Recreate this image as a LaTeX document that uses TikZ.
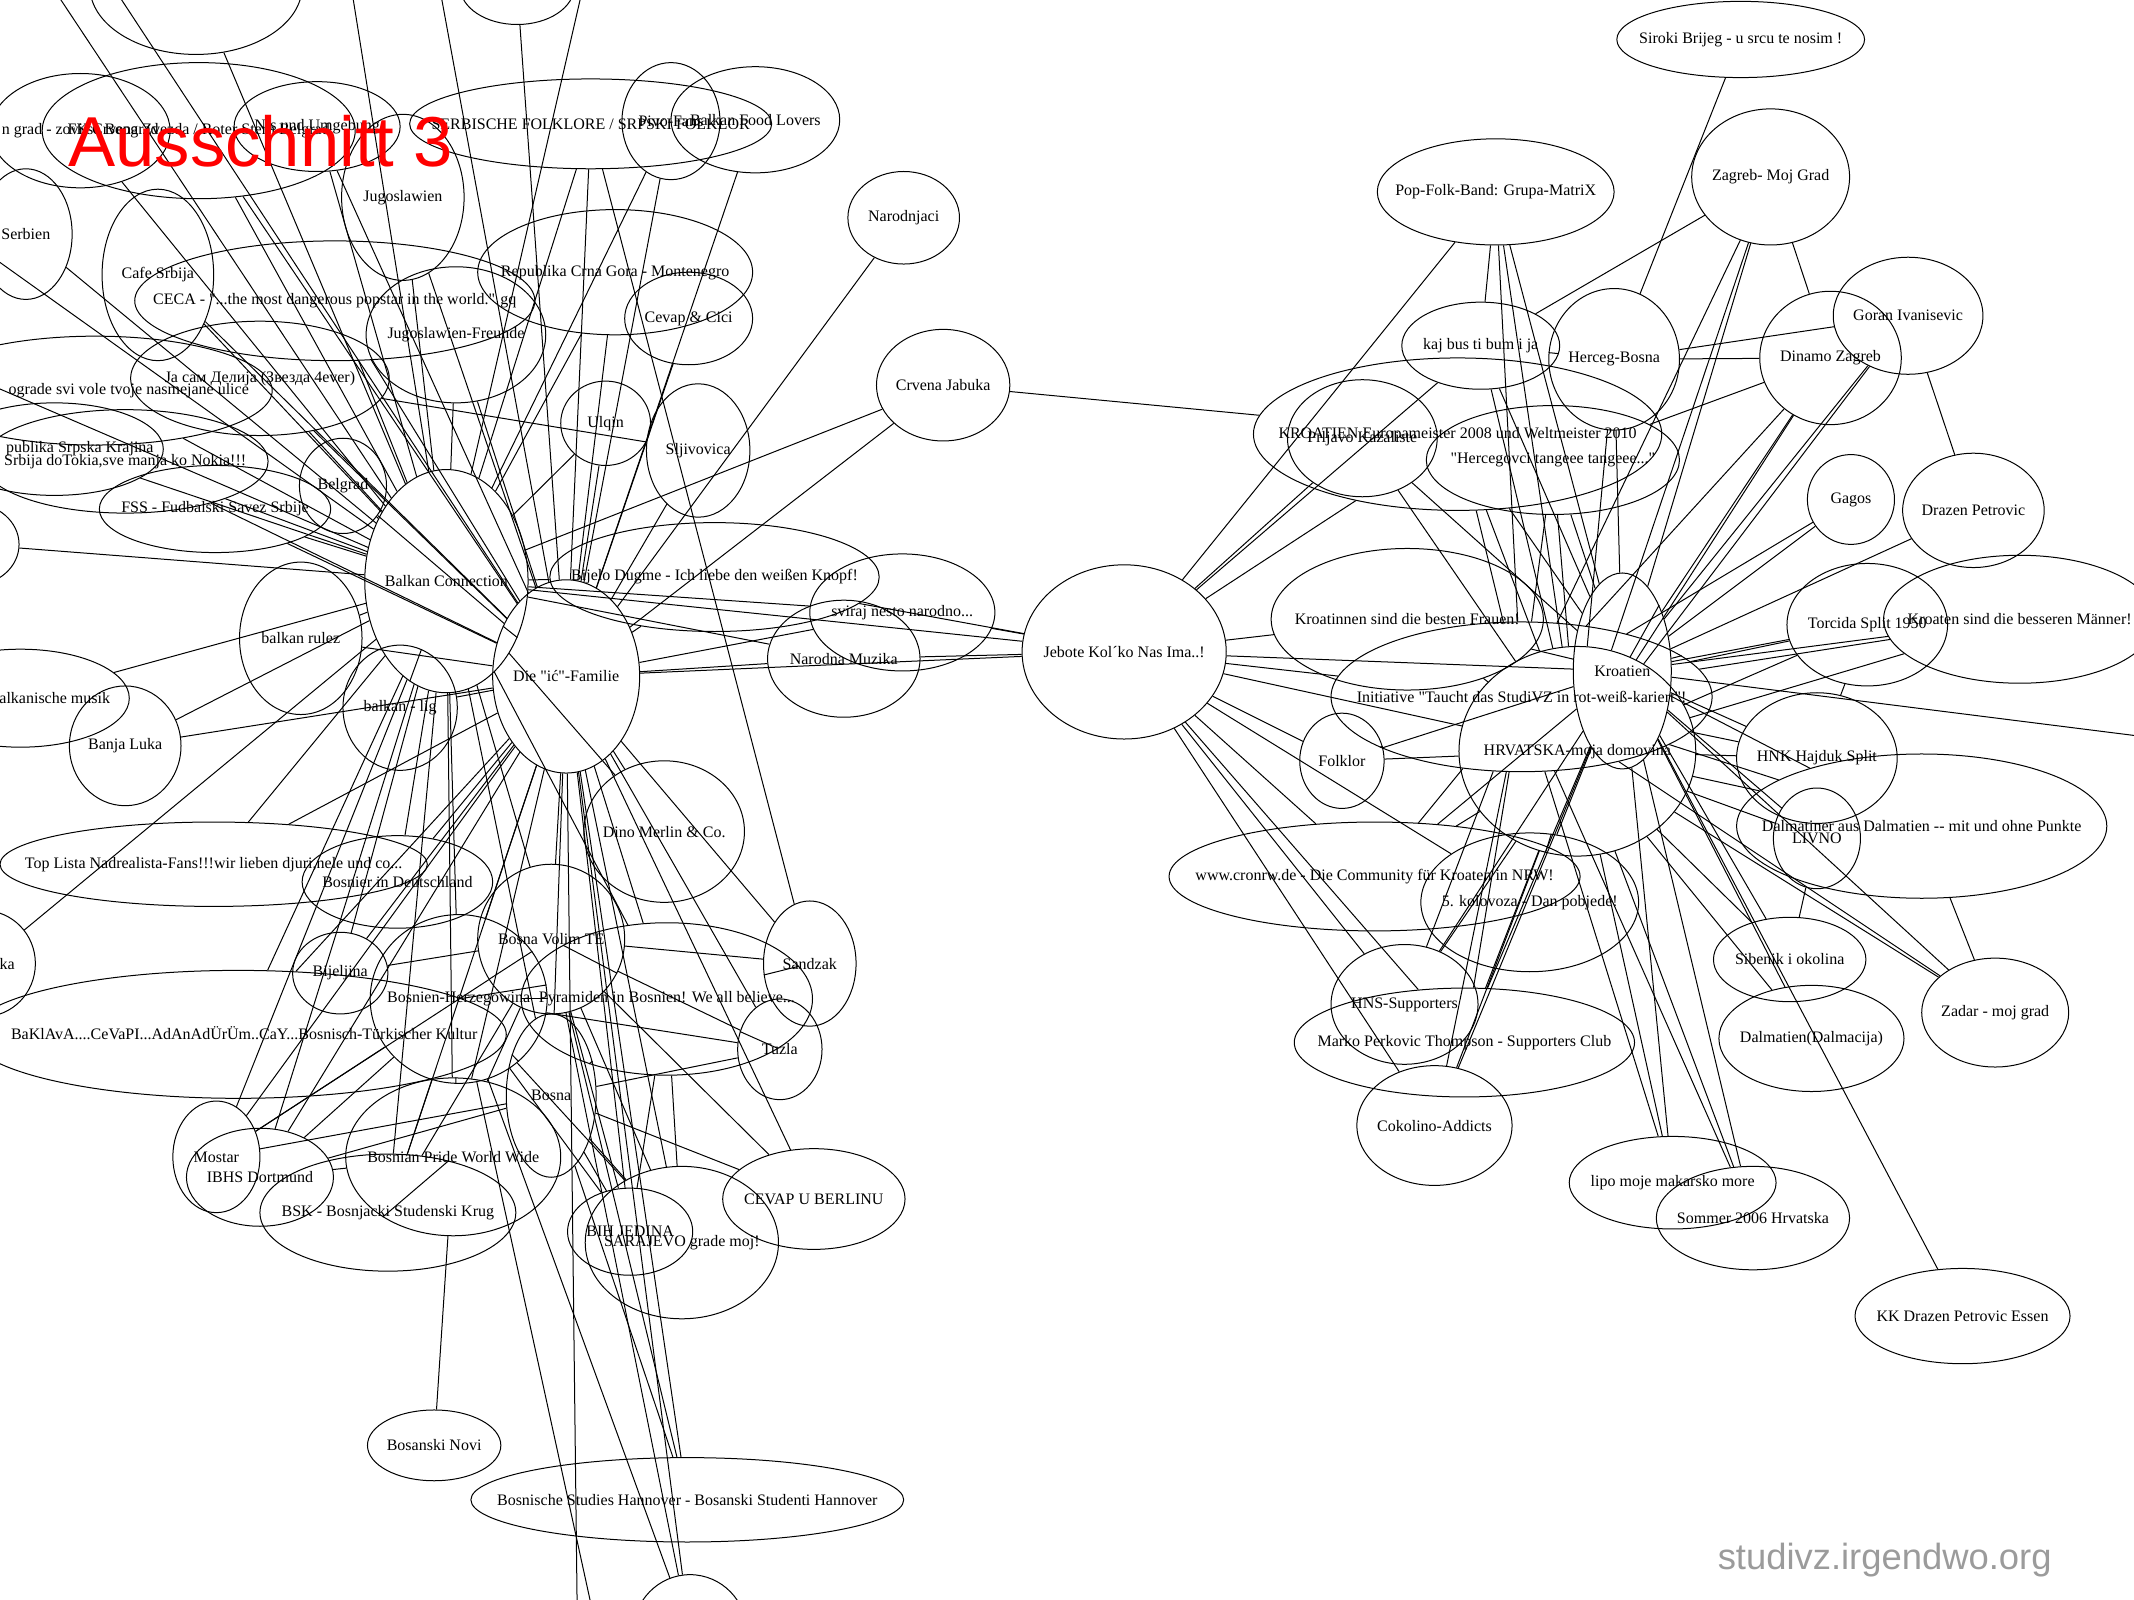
\documentclass[tikz,border=0pt]{standalone}
\usepackage{fontspec}
\setmainfont{Liberation Serif}
\newfontfamily\sansf{Liberation Sans}
\usetikzlibrary{shapes.geometric}
\definecolor{wmgray}{RGB}{155,155,155}
\tikzset{
 gn/.style={draw, ellipse, inner sep=0pt, line width=1pt},
 lt/.style={font=\fontsize{16}{18}\selectfont, inner sep=0pt, text=black},
 ed/.style={line width=1pt},
}
\newcommand\qq{\textquotedbl}
\newcommand\gnd[6]{\node[gn, minimum width={#4*2.722pt}, minimum height={#5*2.722pt}, label={[lt]center:{#6}}] (#1) at (#2,#3) {};}
\begin{document}
\begin{tikzpicture}[x=1.361pt, y=-1.361pt]
\useasboundingbox (0,0) rectangle (1568,1175.6);
\clip (0,0) rectangle (1568,1175.6);
% ---------- left cluster ----------
\gnd{top1}{144}{-10}{78}{50}{}
\gnd{top2}{380}{-10}{42}{28}{}
\gnd{ngrad}{59}{96}{66}{42}{n grad - zovi se Beograd}
\gnd{fk}{146}{96}{115}{50}{FK Crvena Zvezda / Roter Stern Belgrad}
\gnd{nis}{233}{93}{61}{33}{Nis und Umgebung}
\gnd{serb}{434}{91}{133}{33}{SERBISCHE FOLKLORE / SRPSKI FOLKLOR}
\gnd{pivo}{493}{89}{36}{43}{Pivo-Fans}
\gnd{food}{555}{88}{62}{39}{Balkan Food Lovers}
\gnd{jugo}{296}{145}{45}{61}{Jugoslawien}
\gnd{serbien}{19}{172}{34}{48}{Serbien}
\gnd{cafe}{116}{202}{41}{63}{Cafe Srbija}
\gnd{ceca}{246}{221}{147}{44}{CECA - \qq...the most dangerous popstar in the world.\qq{} gq}
\gnd{crna}{452}{200}{101}{46}{Republika Crna Gora - Montenegro}
\gnd{cevap}{506}{234}{47}{34}{Cevap \& Cici}
\gnd{jfreunde}{335}{246}{66}{50}{Jugoslawien-Freunde}
\gnd{delija}{191}{278}{95}{42}{Ja сам Делија (Звезда 4ever)}
\gnd{beograde}{70}{287}{130}{40}{}
\node[lt, anchor=east] (beogradeT) at (183,287) {ograde svi vole tvoje nasmejane ulice};
\gnd{krajina}{40}{330}{80}{34}{}
\node[lt, anchor=east] (krajinaT) at (113,330) {publika Srpska Krajina};
\gnd{srbija}{92}{339}{105}{38}{Srbija doTokia,sve manja ko Nokia!!!}
\gnd{fss}{158}{374}{85}{32}{FSS - Fudbalski Savez Srbije}
\gnd{belgrad}{252}{357}{32}{35}{Belgrad}
\gnd{ulqin}{445}{311}{33}{31}{Ulqin}
\gnd{sljiv}{513}{331}{38}{49}{Sljivovica}
\gnd{narodnjaci}{664}{160}{41}{34}{Narodnjaci}
\gnd{crvena}{693}{283}{49}{41}{Crvena Jabuka}
\gnd{bc}{328}{427}{60}{82}{Balkan Connection}
\gnd{dif}{416}{497}{54}{71}{Die \qq ić\qq-Familie}
\gnd{leftc}{-20}{400}{34}{30}{}
\gnd{brulez}{221}{469}{45}{56}{balkan rulez}
\gnd{bmusik}{15}{513}{80}{36}{}
\node[lt, anchor=east] (bmusikT) at (81,513) {alkanische musik};
\gnd{banja}{92}{548}{41}{44}{Banja Luka}
\gnd{lig}{294}{520}{42}{46}{balkan - lig}
\gnd{bijelo}{525}{424}{121}{40}{Bijelo Dugme - Ich liebe den weißen Knopf!}
\gnd{sviraj}{663}{450}{68}{43}{sviraj nesto narodno...}
\gnd{narodna}{620}{484}{56}{43}{Narodna Muzika}
\gnd{jebote}{826}{479}{75}{64}{Jebote Kol´ko Nas Ima..!}
\gnd{toplista}{157}{635}{157}{31}{Top Lista Nadrealista-Fans!!!wir lieben djuri,nele und co...}
\gnd{bosnier}{292}{648}{70}{34}{Bosnier in Deutschland}
\gnd{kaC}{-12}{708}{38}{39}{}
\node[lt, anchor=east] (kaT) at (11,708) {ka};
\gnd{bijeljina}{250}{715}{35}{30}{Bijeljina}
\gnd{baklava}{175}{760}{197}{47}{}
\node[lt, anchor=east] (baklavaT) at (351,759) {BaKlAvA....CeVaPI...AdAnAdÜrÜm..CaY...Bosnisch-Türkischer Kultur};
\gnd{bherz}{337}{734}{65}{62}{Bosnien-Herzegowina}
\gnd{bvolim}{405}{690}{54}{55}{Bosna Volim TE}
\gnd{dino}{488}{611}{59}{52}{Dino Merlin \& Co.}
\gnd{pyramiden}{490}{734}{107}{56}{Pyramiden in Bosnien! We all believe...}
\gnd{sandzak}{595}{708}{34}{46}{Sandzak}
\gnd{tuzla}{573}{771}{31}{37}{Tuzla}
\gnd{bosna}{405}{805}{33}{60}{Bosna}
\gnd{mostar}{159}{850}{32}{41}{Mostar}
\gnd{ibhs}{191}{865}{54}{36}{IBHS Dortmund}
\gnd{bsk}{285}{891}{94}{43}{BSK - Bosnjacki Studenski Krug}
\gnd{bpride}{333}{850}{79}{58}{Bosnian Pride World Wide}
\gnd{bnovi}{319}{1062}{49}{26}{Bosanski Novi}
\gnd{hannover}{505}{1102}{159}{31}{Bosnische Studies Hannover - Bosanski Studenti Hannover}
\gnd{bottom}{507}{1200}{42}{43}{}
\gnd{sarajevo}{501}{913}{71}{56}{SARAJEVO grade moj!}
\gnd{bih}{463}{905}{46}{32}{BIH JEDINA}
\gnd{berlin}{598}{881}{67}{37}{CEVAP U BERLINU}
% ---------- right cluster ----------
\gnd{siroki}{1279}{29}{91}{28}{Siroki Brijeg - u srcu te nosim !}
\gnd{zagreb}{1301}{130}{58}{50}{Zagreb- Moj Grad}
\gnd{popfolk}{1099}{141}{87}{39}{Pop-Folk-Band: Grupa-MatriX}
\gnd{kajbus}{1088}{254}{58}{32}{kaj bus ti bum i ja}
\gnd{herceg}{1186}{264}{48}{52}{Herceg-Bosna}
\gnd{dinamo}{1345}{263}{52}{49}{Dinamo Zagreb}
\gnd{goran}{1402}{232}{55}{43}{Goran Ivanisevic}
\gnd{gagos}{1360}{367}{32}{33}{Gagos}
\gnd{drazen}{1450}{375}{52}{42}{Drazen Petrovic}
\gnd{kroEM}{1071}{319}{150}{56}{KROATIEN Europameister 2008 und Weltmeister 2010}
\gnd{prljavo}{1001}{322}{55}{43}{Prljavo Kazaliste}
\gnd{hercegovci}{1141}{338}{93}{40}{\qq Hercegovci tangeee tangeee...\qq}
\gnd{kroatinnen}{1034}{455}{100}{52}{Kroatinnen sind die besten Frauen!}
\gnd{kroatien}{1192}{493}{36}{72}{Kroatien}
\gnd{initiative}{1118}{512}{140}{55}{Initiative \qq Taucht das StudiVZ in rot-weiß-kariert\qq!}
\gnd{hrvatska}{1159}{552}{87}{77}{HRVATSKA-moja domovina}
\gnd{folklor}{986}{559}{31}{35}{Folklor}
\gnd{cronrw}{1010}{644}{151}{40}{www.cronrw.de - Die Community für Kroaten in NRW!}
\gnd{kolovoza}{1124}{663}{80}{51}{5. kolovoza - Dan pobjede!}
\gnd{hns}{1032}{738}{54}{44}{HNS-Supporters}
\gnd{marko}{1076}{766}{125}{40}{Marko Perkovic Thompson - Supporters Club}
\gnd{cokolino}{1054}{827}{57}{44}{Cokolino-Addicts}
\gnd{lipo}{1229}{869}{76}{34}{lipo moje makarsko more}
\gnd{sommer}{1288}{895}{71}{38}{Sommer 2006 Hrvatska}
\gnd{kkdrazen}{1442}{967}{79}{35}{KK Drazen Petrovic Essen}
\gnd{torcida}{1372}{459}{59}{45}{Torcida Split 1950}
\gnd{kroatenM}{1484}{455}{100}{47}{Kroaten sind die besseren Männer!}
\gnd{hajduk}{1335}{557}{59}{48}{HNK Hajduk Split}
\gnd{dalmatiner}{1412}{607}{136}{53}{Dalmatiner aus Dalmatien -{}- mit und ohne Punkte}
\gnd{livno}{1335}{616}{32}{37}{LIVNO}
\gnd{sibenik}{1315}{705}{56}{31}{Sibenik i okolina}
\gnd{dalmatien}{1331}{763}{68}{39}{Dalmatien(Dalmacija)}
\gnd{zadar}{1466}{744}{54}{40}{Zadar - moj grad}
% ---------- free ends outside the frame ----------
\coordinate (oA) at (5,-60);
\coordinate (oB) at (50,-60);
\coordinate (oC) at (250,-60);
\coordinate (oD) at (310,-80);
\coordinate (oE) at (440,-60);
\coordinate (oL1) at (-60,150);
\coordinate (oL3) at (-60,260);
\coordinate (oR) at (1700,557);
\coordinate (oBot1) at (425,1260);
\coordinate (oBot2) at (452,1260);
% ---------- connectors ----------
\foreach \h/\l in {
 bc/{oA,oC,oE,oL1,oL3,top1,ngrad,fk,nis,serb,pivo,jugo,serbien,cafe,ceca,crna,jfreunde,delija,beograde,krajina,srbija,fss,belgrad,ulqin,brulez,bmusik,banja,leftc,toplista,bosnier,bijeljina,bherz,baklava,bvolim,dino,pyramiden,bosna,mostar,ibhs,bsk,bpride,dif,bijelo,sviraj,narodna,jebote,lig,kaC,crvena},
 dif/{oB,oD,top2,fk,nis,serb,food,pivo,jugo,cafe,ceca,crna,cevap,jfreunde,delija,srbija,fss,belgrad,ulqin,sljiv,narodnjaci,crvena,bijelo,sviraj,narodna,jebote,brulez,banja,lig,toplista,bosnier,bijeljina,bherz,baklava,bvolim,dino,pyramiden,sandzak,tuzla,bosna,mostar,ibhs,bsk,bpride,sarajevo,bih,berlin,hannover,bottom,oBot1},
 bvolim/{bherz,pyramiden,bosna,sarajevo,bih,tuzla,mostar,bsk,bpride,hannover,bijeljina,sandzak,berlin,bottom},
 bherz/{mostar,ibhs,bsk,bpride,sarajevo,bih,tuzla,baklava,bosna,bottom,oBot2,pyramiden},
 bosna/{sarajevo,bih,mostar,hannover,berlin,tuzla,pyramiden,ibhs},
 pyramiden/{tuzla,sandzak,sarajevo,bih},
 bpride/{bnovi,bsk,ibhs},
 jebote/{sviraj,narodna,bijelo,kroatinnen,folklor,cronrw,hns,marko,cokolino,kroEM,prljavo,popfolk,kajbus,kolovoza},
 kroatien/{popfolk,kajbus,herceg,zagreb,dinamo,goran,gagos,drazen,torcida,kroatenM,hajduk,dalmatiner,livno,sibenik,dalmatien,zadar,sommer,lipo,kkdrazen,kroEM,prljavo,hercegovci,kroatinnen,initiative,hrvatska,folklor,cronrw,kolovoza,hns,marko,cokolino,jebote,oR},
 hrvatska/{popfolk,kajbus,herceg,zagreb,dinamo,goran,torcida,kroatenM,hajduk,dalmatiner,livno,sibenik,dalmatien,zadar,sommer,lipo,kroEM,prljavo,hercegovci,kroatinnen,folklor,cronrw,kolovoza,hns,marko,cokolino,jebote},
 initiative/{popfolk,zagreb,dinamo,torcida,kroatenM,hajduk,dalmatiner,zadar,sommer,lipo,kroEM,hercegovci,folklor,cronrw,hns,marko,cokolino,jebote,gagos},
 crvena/{kroEM},
 delija/{sljiv},
 sandzak/{serb},
 siroki/{herceg},
 zagreb/{dinamo,kajbus},
 goran/{drazen,herceg},
 dinamo/{herceg,hercegovci},
 kajbus/{herceg,popfolk},
 livno/{sibenik},
 zadar/{dalmatiner},
 hajduk/{torcida}}
 {\foreach \t in \l {\draw[ed] (\h) -- (\t);}}
% ---------- overlay texts ----------
\node[anchor=base west, inner sep=0pt, text=red, font=\sansf\fontsize{70.7}{80}\selectfont] (title) at (50,122) {Ausschnitt 3};
\node[anchor=base west, inner sep=0pt, text=wmgray, font=\sansf\fontsize{36.4}{40}\selectfont] (wm) at (1262,1153) {studivz.irgendwo.org};
\end{tikzpicture}
\end{document}
